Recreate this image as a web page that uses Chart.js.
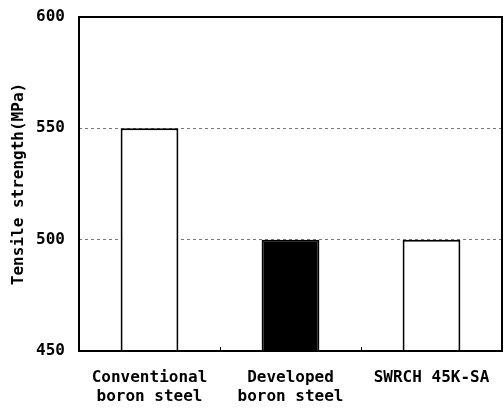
<!DOCTYPE html>
<html>
<head>
<meta charset="utf-8">
<script src="https://cdn.jsdelivr.net/npm/chart.js@4"></script>
<style>
  html, body { margin: 0; padding: 0; background: #fff; }
  #wrap { width: 504px; height: 409px; position: relative; }
</style>
</head>
<body>
<div id="wrap"><canvas id="c"></canvas></div>
<script>
// Steel grades compared
const categories = [
  ['Conventional', 'boron steel'],
  ['Developed', 'boron steel'],
  'SWRCH 45K-SA'
];
// Tensile strength, MPa
const strengthValues = [550, 500, 500];
// Y axis range and tick labels
const yTicks = [450, 500, 550, 600];

const FONT = '"DejaVu Sans Mono", "Liberation Mono", monospace';

// Black frame around the plot plus small inner ticks between categories
const framePlugin = {
  id: 'frame',
  afterDraw(chart) {
    const { ctx, chartArea: a } = chart;
    const xs = chart.scales.x;
    ctx.save();
    ctx.strokeStyle = '#000';
    ctx.lineWidth = 2;
    ctx.strokeRect(a.left, a.top, a.right - a.left, a.bottom - a.top);
    ctx.lineWidth = 1;
    for (let i = 0; i < categories.length - 1; i++) {
      const x = Math.round((xs.getPixelForTick(i) + xs.getPixelForTick(i + 1)) / 2) + 0.5;
      ctx.beginPath();
      ctx.moveTo(x, a.bottom);
      ctx.lineTo(x, a.bottom - 4);
      ctx.stroke();
    }
    ctx.restore();
  }
};

new Chart(document.getElementById('c'), {
  type: 'bar',
  data: {
    labels: categories,
    datasets: [{
      data: strengthValues,
      backgroundColor: ['#ffffff', '#000000', '#ffffff'],
      borderColor: '#000',
      borderWidth: 2,
      barPercentage: 0.41,
      categoryPercentage: 1.0
    }]
  },
  options: {
    responsive: true,
    maintainAspectRatio: false,
    animation: false,
    layout: { padding: { top: 17, right: 2, left: 0, bottom: 0 } },
    plugins: {
      legend: { display: false },
      tooltip: { enabled: false }
    },
    scales: {
      x: {
        grid: { display: false, drawTicks: false },
        border: { display: false },
        ticks: {
          color: '#000',
          font: { family: FONT, size: 16, lineHeight: 1.2, weight: 'bold' },
          padding: 17,
          maxRotation: 0,
          autoSkip: false
        },
        afterFit(scale) {
          scale.height = 58;
          scale.paddingLeft = 0;
          scale.paddingRight = 0;
        }
      },
      y: {
        min: yTicks[0],
        max: yTicks[yTicks.length - 1],
        afterBuildTicks(scale) { scale.ticks = yTicks.map(v => ({ value: v })); },
        grid: {
          drawTicks: false,
          color: ctx => (ctx.tick && (ctx.tick.value === yTicks[0] || ctx.tick.value === yTicks[yTicks.length - 1])) ? 'rgba(0,0,0,0)' : '#777',
          lineWidth: 1,
          borderDash: [3, 3]
        },
        border: { display: false, dash: [3, 3] },
        ticks: {
          color: '#000',
          font: { family: FONT, size: 16, weight: 'bold' },
          padding: 14
        },
        title: {
          display: true,
          text: 'Tensile strength(MPa)',
          color: '#000',
          font: { family: FONT, size: 16, weight: 'bold' },
          padding: { top: 9, bottom: 0 }
        },
        afterFit(scale) {
          scale.width = 79;
          scale.paddingTop = 0;
          scale.paddingBottom = 0;
        }
      }
    }
  },
  plugins: [framePlugin]
});
</script>
</body>
</html>
